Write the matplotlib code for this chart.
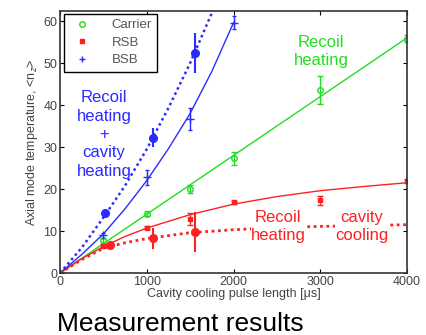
import matplotlib
matplotlib.use('Agg')
import matplotlib.pyplot as plt
from matplotlib.lines import Line2D

plt.rcParams['font.family'] = ['Liberation Sans', 'DejaVu Sans']

# measured points: pulse length [us], <n_z>, error
t_car = [0, 500, 1000, 1500, 2000, 3000, 4000]
n_car = [0, 7.8, 14.1, 20.0, 27.3, 43.6, 55.8]
e_car = [0, 0.6, 0.6, 1.0, 1.6, 3.3, 0.8]

t_rsb = [0, 500, 1000, 1500, 2000, 3000, 4000]
n_rsb = [0, 6.4, 10.8, 12.9, 16.8, 17.3, 22.0]
e_rsb = [0, 0.3, 0.4, 1.4, 0.4, 1.0, 0.5]

t_bsb = [0, 500, 1000, 1500, 2000]
n_bsb = [0, 9.0, 22.8, 36.6, 59.6]
e_bsb = [0, 0.6, 1.8, 2.6, 1.5]

# cavity cooled / heated points (big dots)
t_bsb_cav = [517, 1075, 1560]
n_bsb_cav = [14.2, 32.2, 52.4]
e_bsb_cav = [0.6, 2.3, 4.8]

t_rsb_cav = [575, 1070, 1552]
n_rsb_cav = [6.6, 8.3, 9.8]
e_rsb_cav = [0.4, 2.5, 4.7]

# model curves
fit_t_car = [0, 4000]
fit_car = [0, 56]
fit_t_red = [0, 250, 500, 750, 1000, 1500, 2000, 2500, 3000, 3500, 4000]
fit_rsb = [0, 3.4, 6.3, 8.7, 10.7, 13.9, 16.4, 18.2, 19.6, 20.6, 21.5]
fit_rsb_cav = [0, 3.2, 5.9, 7.2, 8.2, 9.6, 10.3, 10.8, 11.1, 11.3, 11.5]
fit_t_bsb = [0, 250, 500, 750, 1000, 1250, 1500, 1750, 2000]
fit_bsb = [0, 4.4, 9.3, 15.3, 22.0, 29.6, 38.0, 48.0, 59.6]
fit_t_bsb_cav = [0, 250, 500, 750, 1000, 1250, 1500, 1750]
fit_bsb_cav = [0, 6.0, 13.2, 20.8, 29.5, 39.3, 50.0, 61.9]

green = '#22dd22'
red = '#ff2020'
blue = '#2b2bff'
grey = '#444444'

fig = plt.figure(figsize=(4.26, 3.35), dpi=100)
ax = fig.add_axes([60/426, 62/335, 347/426, 262/335])

ax.plot(fit_t_car, fit_car, color=green, lw=1)
ax.plot(fit_t_red, fit_rsb, color=red, lw=1)
ax.plot(fit_t_red, fit_rsb_cav, color=red, lw=2, ls=(0, (1, 1.3)))
ax.plot(fit_t_bsb, fit_bsb, color=blue, lw=1)
ax.plot(fit_t_bsb_cav, fit_bsb_cav, color=blue, lw=1.8, ls=(0, (1, 1.3)))

ax.errorbar(t_car, n_car, yerr=e_car, fmt='o', color=green, mfc='none', ms=4,
            mew=1, elinewidth=1, capsize=2.5)
ax.errorbar(t_rsb, n_rsb, yerr=e_rsb, fmt='s', color=red, ms=2.5,
            elinewidth=1, capsize=2)
ax.errorbar(t_bsb, n_bsb, yerr=e_bsb, fmt='+', color=blue, ms=6, mew=1,
            elinewidth=1, capsize=1.5)
ax.errorbar(t_bsb_cav, n_bsb_cav, yerr=e_bsb_cav, fmt='o', color=blue, ms=5.5,
            elinewidth=1.5, capsize=0)
ax.errorbar(t_rsb_cav, n_rsb_cav, yerr=e_rsb_cav, fmt='o', color=red, ms=5.5,
            elinewidth=1.5, capsize=0)

ax.text(506, 33, 'Recoil\nheating\n+\ncavity\nheating', color=blue, fontsize=12,
        ha='center', va='center', linespacing=1.28)
ax.text(3011, 52.8, 'Recoil\nheating', color=green, fontsize=12,
        ha='center', va='center', linespacing=1.25)
wb = dict(facecolor='white', edgecolor='none', pad=0.3)
ax.text(2517, 11.0, 'Recoil\nheating', color=red, fontsize=12,
        ha='center', va='center', linespacing=1.25, bbox=wb)
ax.text(3483, 11.0, 'cavity\ncooling', color=red, fontsize=12,
        ha='center', va='center', linespacing=1.25, bbox=wb)

ax.set_xlim(0, 4000)
ax.set_ylim(0, 62.4)
ax.set_xticks([0, 1000, 2000, 3000, 4000])
ax.set_yticks([0, 10, 20, 30, 40, 50, 60])
ax.tick_params(direction='in', top=True, right=True, length=3, width=0.8,
               labelsize=9, labelcolor=grey, pad=2)
for s in ax.spines.values():
    s.set_linewidth(1.2)
    s.set_color('#333333')

ax.set_xlabel('Cavity cooling pulse length [\u03bcs]', fontsize=9, color=grey, labelpad=0)
ax.set_ylabel('Axial mode temperature, <n$_z$>', fontsize=9, color=grey, labelpad=2)

handles = [Line2D([], [], ls='none', marker='o', mfc='none', mec=green, ms=4),
           Line2D([], [], ls='none', marker='s', color=red, ms=2.5),
           Line2D([], [], ls='none', marker='+', color=blue, ms=5)]
leg = ax.legend(handles, ['Carrier', 'RSB', 'BSB'], loc='upper left',
                bbox_to_anchor=(0.0115, 0.989), borderaxespad=0,
                fontsize=9.5, fancybox=False, framealpha=1, edgecolor='black',
                handlelength=2.0, handletextpad=1.2, borderpad=0.4, labelspacing=0.4)
leg.get_frame().set_linewidth(1)
for txt in leg.get_texts():
    txt.set_color('#555555')

fig.text(57/426, 1 - 331/335, 'Measurement results', fontsize=19, color='black',
         ha='left', va='baseline')

fig.savefig('out.png', dpi=100)
